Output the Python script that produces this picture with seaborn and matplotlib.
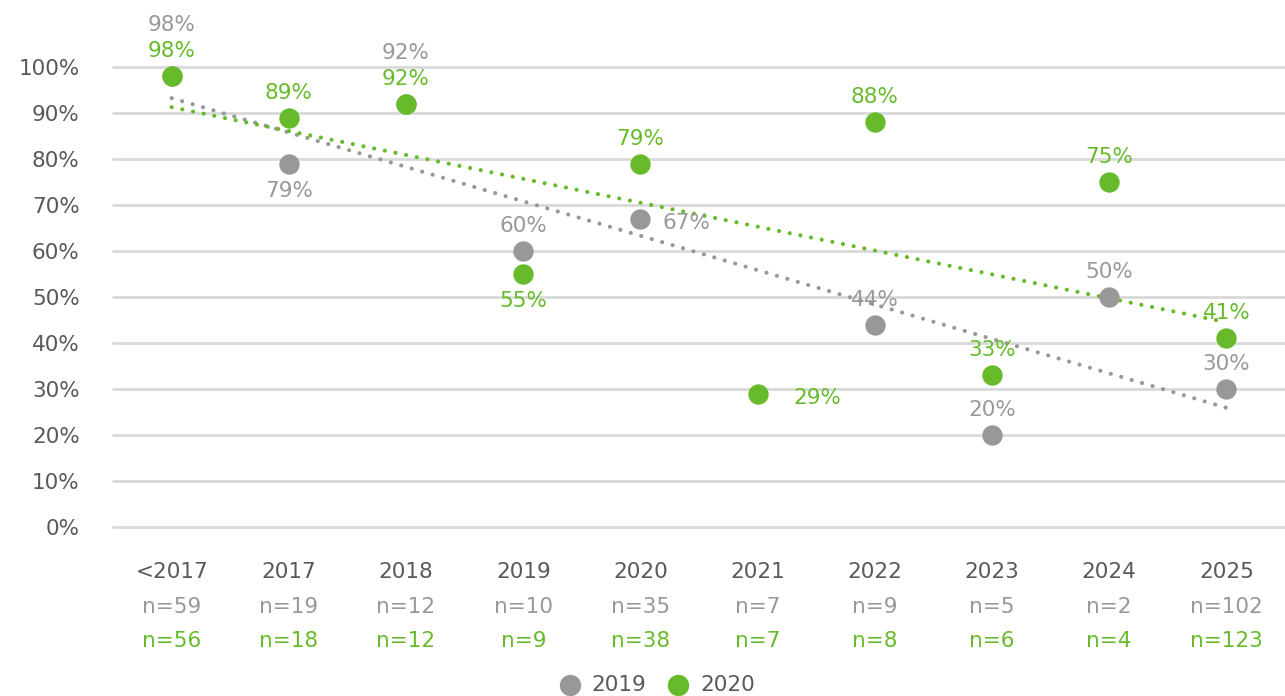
import numpy as np
import pandas as pd
import matplotlib
matplotlib.use("Agg")
import matplotlib.pyplot as plt
import matplotlib.transforms as mtransforms
import seaborn as sns

# data
categories = ['<2017', '2017', '2018', '2019', '2020', '2021', '2022', '2023', '2024', '2025']
pct_2019 = [98, 79, 92, 60, 67, np.nan, 44, 20, 50, 30]
pct_2020 = [98, 89, 92, 55, 79, 29, 88, 33, 75, 41]
n_2019 = [59, 19, 12, 10, 35, 7, 9, 5, 2, 102]
n_2020 = [56, 18, 12, 9, 38, 7, 8, 6, 4, 123]

# where each value label goes: 'up', 'down', 'right', 'up2' (stacked above the other label)
pos_2019 = ['up2', 'down', 'up2', 'up', 'right', None, 'up', 'up', 'up', 'up']
pos_2020 = ['up', 'up', 'up', 'down', 'up', 'right2', 'up', 'up', 'up', 'up']

GREY = '#989898'
GREEN = '#67bb2b'
DARK = '#595959'
GRID = '#d9d9d9'
FS = 15.5

sns.set_style('white')
plt.rcParams['font.family'] = ['DejaVu Sans']

df = pd.DataFrame({'x': np.arange(len(categories)),
                   '2019': pct_2019, '2020': pct_2020})

fig = plt.figure(figsize=(12.85, 6.96), dpi=100)
ax = fig.add_axes([0.088, 0.2428, 0.912, 0.6609])

# trend lines (linear fit, dotted)
for col, c in [('2019', GREY), ('2020', GREEN)]:
    sns.regplot(data=df, x='x', y=col, scatter=False, ci=None, ax=ax,
                line_kws=dict(color=c, lw=3.0, linestyle=(0, (0.01, 2.6)),
                              dash_capstyle='round', zorder=2))

for col, c in [('2019', GREY), ('2020', GREEN)]:
    sns.scatterplot(data=df, x='x', y=col, color=c, s=215, linewidth=0,
                    ax=ax, zorder=3, clip_on=False, label=col)

ax.set_xlim(-0.5, len(categories) - 0.5)
ax.set_ylim(0, 100)
ax.set_yticks(np.arange(0, 101, 10))
ax.set_yticklabels([f'{v}%' for v in range(0, 101, 10)], fontsize=FS, color=DARK)
ax.yaxis.grid(True, color=GRID, lw=2)
for gl in ax.get_ygridlines():
    gl.set_clip_on(False)
ax.set_axisbelow(True)
ax.tick_params(axis='y', length=0, pad=24)
ax.set_xticks([])
ax.set_xlabel('')
ax.set_ylabel('')
for s in ax.spines.values():
    s.set_visible(False)

# value labels (offsets in pixels)
offsets = {'up': (0, 25), 'up2': (0, 51), 'down': (0, -27),
           'right': (46, -4), 'right2': (60, -4)}
for vals, poss, c in [(pct_2019, pos_2019, GREY), (pct_2020, pos_2020, GREEN)]:
    for i, (v, p) in enumerate(zip(vals, poss)):
        if p is None or np.isnan(v):
            continue
        dx, dy = offsets[p]
        ax.annotate(f'{v:.0f}%', (i, v), xytext=(dx * 0.72, dy * 0.72),
                    textcoords='offset points', ha='center', va='center',
                    fontsize=FS, color=c)

# category labels with counts underneath
trans = mtransforms.blended_transform_factory(ax.transData, ax.transAxes)
for i, cat in enumerate(categories):
    ax.text(i, -0.098, cat, transform=trans, ha='center', va='center',
            fontsize=FS, color=DARK)
    ax.text(i, -0.174, f'n={n_2019[i]}', transform=trans, ha='center',
            va='center', fontsize=FS, color=GREY)
    ax.text(i, -0.248, f'n={n_2020[i]}', transform=trans, ha='center',
            va='center', fontsize=FS, color=GREEN)

ax.legend(loc='center', bbox_to_anchor=(0.507, 0.016), bbox_transform=fig.transFigure,
          ncol=2, frameon=False, fontsize=FS, handletextpad=0.0,
          columnspacing=0.5, markerscale=1.05, labelcolor=DARK)

fig.savefig('out.png', dpi=100)
